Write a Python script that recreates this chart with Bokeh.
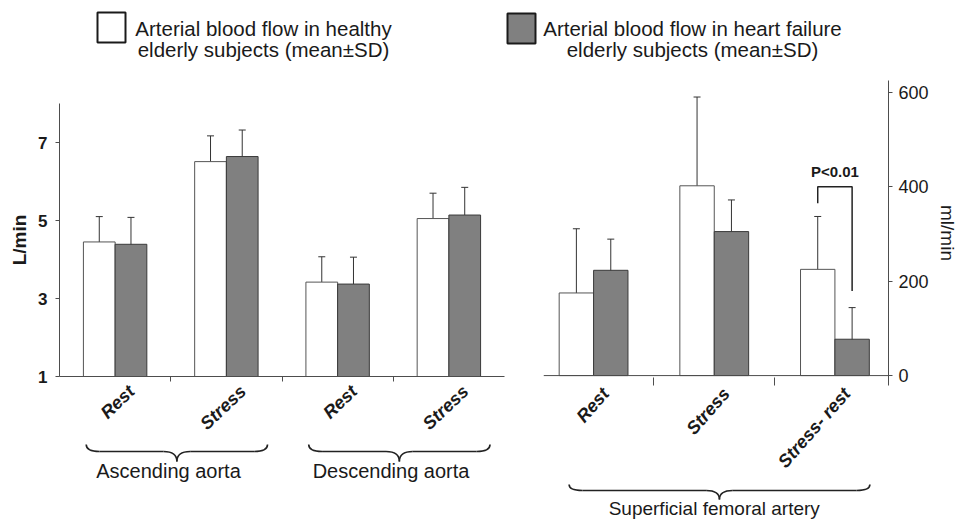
import numpy as np
from bokeh.plotting import figure
from bokeh.models import ColumnDataSource, Range1d, FixedTicker, Whisker, TeeHead, Span
from bokeh.layouts import row, column
from bokeh.core.properties import value
from bokeh.embed import file_html
from bokeh.resources import INLINE

# ---------------- data ----------------
legend_lines_healthy = ["Arterial blood flow in healthy", "elderly subjects (mean\u00b1SD)"]
legend_lines_hf = ["Arterial blood flow in heart failure", "elderly subjects (mean\u00b1SD)"]

# left panel: aorta (L/min)
categories_left = ["Rest", "Stress", "Rest", "Stress"]
groups_left = ["Ascending aorta", "Descending aorta"]
healthy_mean_left = [4.45, 6.51, 3.42, 5.05]
healthy_sd_left = [0.65, 0.66, 0.65, 0.65]
hf_mean_left = [4.39, 6.64, 3.37, 5.14]
hf_sd_left = [0.69, 0.68, 0.69, 0.71]
ticks_left = [1, 3, 5, 7]
unit_left = "L/min"

# right panel: superficial femoral artery (ml/min)
categories_right = ["Rest", "Stress", "Stress- rest"]
group_right = "Superficial femoral artery"
healthy_mean_right = [175, 402, 225]
healthy_sd_right = [136, 188, 112]
hf_mean_right = [223, 305, 77]
hf_sd_right = [66, 67, 67]
ticks_right = [0, 200, 400, 600]
unit_right = "ml/min"

sig_label = "P<0.01"
sig_bracket_y = [365, 400, 400, 179]
sig_label_y = 432

# ---------------- style ----------------
FONT = "Liberation Sans"
TXT = "#1a1a1a"
AX = "#4d4d4d"
WHITE = "#ffffff"
GREY = "#808080"
ERR = "#333333"
BAR_W = 0.285


def base_fig(**kw):
    p = figure(title=None, output_backend="svg", toolbar_location=None, **kw)
    p.outline_line_color = None
    p.background_fill_color = "white"
    p.border_fill_color = "white"
    p.xgrid.visible = False
    p.ygrid.visible = False
    return p


def draw_bars(p, hm, hs, fm, fs, bottom):
    centers = np.arange(len(hm)) + 0.5
    xh = centers - BAR_W / 2
    xf = centers + BAR_W / 2
    p.vbar(x=xh, top=hm, bottom=bottom, width=BAR_W, fill_color=WHITE,
           line_color="#555555", line_width=1)
    p.vbar(x=xf, top=fm, bottom=bottom, width=BAR_W, fill_color=GREY,
           line_color="#3a3a3a", line_width=1)
    hm, hs, fm, fs = map(np.asarray, (hm, hs, fm, fs))
    src = ColumnDataSource(dict(
        base=np.concatenate([xh, xf]),
        lower=np.concatenate([hm - hs, fm - fs]),
        upper=np.concatenate([hm + hs, fm + fs]),
    ))
    w = Whisker(source=src, base="base", lower="lower", upper="upper",
                line_color=ERR, line_width=1,
                upper_head=TeeHead(size=7, line_color=ERR, line_width=1),
                lower_head=TeeHead(size=7, line_color=ERR, line_width=1))
    p.add_layout(w)
    return centers, xh, xf


def style_cat_axis(ax, centers, labels, shift, angle, standoff):
    pos = [float(c + shift) for c in centers]
    ax.ticker = FixedTicker(ticks=pos, minor_ticks=list(range(1, len(centers))))
    ax.major_label_overrides = {p_: lab for p_, lab in zip(pos, labels)}
    ax.major_label_orientation = angle
    ax.major_label_text_font = FONT
    ax.major_label_text_font_style = "bold italic"
    ax.major_label_text_font_size = "18px"
    ax.major_label_text_color = TXT
    ax.major_label_standoff = standoff
    ax.major_tick_line_color = None
    ax.major_tick_out = 0
    ax.major_tick_in = 0
    ax.minor_tick_line_color = AX
    ax.axis_line_color = AX


def draw_brace(p, x0, x1, xm, y_top, y_mid, y_tip, r):
    kw = dict(line_color="#222222", line_width=1.6)
    p.quadratic(x0=[x0, xm - r, xm, x1 - r], y0=[y_top, y_mid, y_tip, y_mid],
                x1=[x0 + r, xm, xm + r, x1], y1=[y_mid, y_tip, y_mid, y_top],
                cx=[x0, xm, xm, x1], cy=[y_mid, y_mid, y_mid, y_mid], **kw)
    p.segment(x0=[x0 + r, xm + r], y0=[y_mid, y_mid], x1=[xm - r, x1 - r], y1=[y_mid, y_mid], **kw)


# ---------------- legend strip ----------------
leg = base_fig(width=960, height=70, x_range=Range1d(0, 960), y_range=Range1d(70, 0),
               x_axis_location=None, y_axis_location=None,
               min_border_left=0, min_border_right=0, min_border_top=0, min_border_bottom=0)
leg.quad(left=[97, 507], right=[125, 535], top=[12, 13], bottom=[42, 43],
         fill_color=[WHITE, GREY], line_color="#1a1a1a", line_width=2)
leg.text(x=[263, 263, 692, 692], y=[28, 49, 28, 49],
         text=legend_lines_healthy + legend_lines_hf,
         text_font=value(FONT), text_font_size="20.5px", text_color=TXT,
         text_align="center", text_baseline="alphabetic")

# ---------------- left panel ----------------
pl = base_fig(width=513, height=373, x_range=Range1d(0, 4), y_range=Range1d(1, 8),
              min_border_left=59, min_border_right=9, min_border_top=33, min_border_bottom=66)
cl, _, _ = draw_bars(pl, healthy_mean_left, healthy_sd_left, hf_mean_left, hf_sd_left, ticks_left[0])
style_cat_axis(pl.xaxis[0], cl, categories_left, 0.15, 0.76, 7)
pl.xaxis.minor_tick_out = 5
pl.xaxis.minor_tick_in = 0
ya = pl.yaxis[0]
ya.ticker = FixedTicker(ticks=ticks_left)
ya.major_label_text_font = FONT
ya.major_label_text_font_style = "bold"
ya.major_label_text_font_size = "17px"
ya.major_label_text_color = TXT
ya.major_label_standoff = 8
ya.major_tick_out = 4
ya.major_tick_in = 0
ya.major_tick_line_color = AX
ya.minor_tick_line_color = None
ya.axis_line_color = AX
ya.axis_label = unit_left
ya.axis_label_text_font = FONT
ya.axis_label_text_font_style = "bold"
ya.axis_label_text_font_size = "19px"
ya.axis_label_text_color = TXT
ya.axis_label_standoff = 5

# left braces
bl = base_fig(width=513, height=77, x_range=Range1d(0, 4), y_range=Range1d(77, 0),
              x_axis_location=None, y_axis_location=None,
              min_border_left=59, min_border_right=9, min_border_top=0, min_border_bottom=0)
for g, name in enumerate(groups_left):
    g0 = 2 * g
    draw_brace(bl, g0 + 0.24, g0 + 1.87, g0 + 1.055, 1, 8, 18, 0.12)
bl.text(x=[2 * g + 0.98 for g in range(len(groups_left))], y=[27] * len(groups_left), text=groups_left,
        text_font=value(FONT), text_font_size="20px", text_color=TXT,
        text_align="center", text_baseline="alphabetic")

# ---------------- right panel ----------------
pr = base_fig(width=447, height=413, x_range=Range1d(0.085, 2.944), y_range=Range1d(-21, 625),
              y_axis_location="right",
              min_border_left=30, min_border_right=72, min_border_top=10, min_border_bottom=98)
cr, xh, xf = draw_bars(pr, healthy_mean_right, healthy_sd_right, hf_mean_right, hf_sd_right, ticks_right[0])
pr.add_layout(Span(location=ticks_right[0], dimension="width", line_color=AX, line_width=1))
style_cat_axis(pr.xaxis[0], cr, categories_right, 0.1, 0.85, 5)
pr.xaxis.axis_line_color = None
pr.xaxis.minor_tick_out = 0
pr.xaxis.minor_tick_in = 8
yr = pr.yaxis[0]
yr.ticker = FixedTicker(ticks=ticks_right)
yr.major_label_text_font = FONT
yr.major_label_text_font_size = "18px"
yr.major_label_text_color = TXT
yr.major_label_standoff = 6
yr.major_tick_out = 4
yr.major_tick_in = 0
yr.major_tick_line_color = AX
yr.minor_tick_line_color = None
yr.axis_line_color = AX
yr.axis_label = unit_right
yr.axis_label_text_font = FONT
yr.axis_label_text_font_style = "normal"
yr.axis_label_text_font_size = "19px"
yr.axis_label_text_color = TXT
yr.axis_label_standoff = 5

# significance bracket on the last category
i_sig = len(categories_right) - 1
pr.line(x=[xh[i_sig], xh[i_sig], xf[i_sig], xf[i_sig]], y=sig_bracket_y,
        line_color="#222222", line_width=1.5)
pr.text(x=[cr[i_sig]], y=[sig_label_y], text=[sig_label], text_font=value(FONT),
        text_font_style="bold", text_font_size="15px", text_color=TXT,
        text_align="center", text_baseline="alphabetic")

# right brace
br = base_fig(width=447, height=37, x_range=Range1d(0.085, 2.944), y_range=Range1d(37, 0),
              x_axis_location=None, y_axis_location=None,
              min_border_left=30, min_border_right=72, min_border_top=0, min_border_bottom=0)
draw_brace(br, 0.297, 2.79, 1.543, 1, 7, 16, 0.11)
br.text(x=[1.50], y=[25], text=[group_right], text_font=value(FONT), text_font_size="19px",
        text_color=TXT, text_align="center", text_baseline="alphabetic")

layout = column(leg, row(column(pl, bl), column(pr, br)))

open("out.html", "w").write(file_html(layout, INLINE))
